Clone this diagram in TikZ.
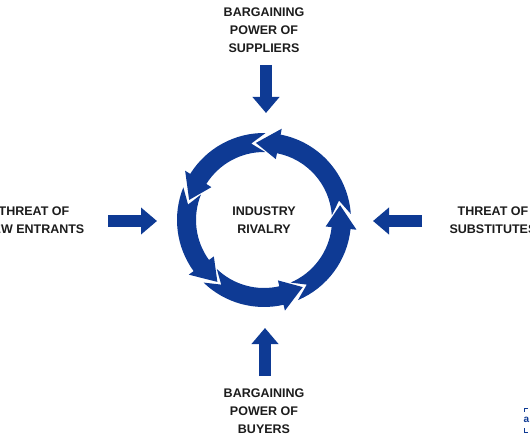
\documentclass[tikz,border=0pt]{standalone}
\usepackage{fontspec}
\setsansfont{Liberation Sans}
\usetikzlibrary{arrows.meta,positioning}
\definecolor{porterblue}{RGB}{14,58,148}
\definecolor{labelink}{RGB}{28,28,28}

\begin{document}
\begin{tikzpicture}[x=1pt,y=1pt,
  force/.style={font=\sffamily\bfseries\fontsize{12.5}{18}\selectfont,text=labelink,align=center},
  push/.style={porterblue,line width=12pt,-{Triangle[width=26pt,length=16pt]}}]
  \useasboundingbox (0,0) rectangle (530,442);
  \clip (0,0) rectangle (530,442);

  \node[force] (rivalry) at (264,222) {INDUSTRY\\RIVALRY};
  \node[force] (suppliers) at (264,412) {BARGAINING\\POWER OF\\SUPPLIERS};
  \node[force] (buyers) at (264,31) {BARGAINING\\POWER OF\\BUYERS};
  \node[force] (entrants) at (34,222) {THREAT OF\\NEW ENTRANTS};
  \node[force] (substitutes) at (493,222) {THREAT OF\\SUBSTITUTES};

  \begin{scope}[shift={(rivalry.center)}]
    \foreach \prev/\tip in {-60/11, 11/96, 96/165, 165/233, 233/300} {
      \pgfmathsetmacro\hbase{\tip-17}
      \pgfmathsetmacro\tcorner{\prev-7}
      \pgfmathsetmacro\tnotch{\prev+3.5}
      \fill[porterblue] (\tcorner:87) arc[start angle=\tcorner,end angle=\hbase,radius=87]
        -- (\hbase:93) -- (\tip:77.5) -- (\hbase:62) -- (\hbase:68)
        arc[start angle=\hbase,end angle=\tcorner,radius=68] -- (\tnotch:77.5) -- cycle;
    }
  \end{scope}

  \coordinate (supfrom) at (266,377);
  \coordinate (supto) at (266,329);
  \coordinate (buyfrom) at (265,66);
  \coordinate (buyto) at (265,114);
  \coordinate (entfrom) at (108,221);
  \coordinate (entto) at (157,221);
  \coordinate (subfrom) at (422,221);
  \coordinate (subto) at (373,221);

  \draw[push] (supfrom) -- (supto);
  \draw[push] (buyfrom) -- (buyto);
  \draw[push] (entfrom) -- (entto);
  \draw[push] (subfrom) -- (subto);

  \node[porterblue,font=\sffamily\bfseries\fontsize{10}{10}\selectfont,inner sep=0pt] (logo) at (526.5,22) {a};
  \draw[porterblue,line width=1pt] (528,34) -- (524,34) -- (524,30);
  \draw[porterblue,line width=1pt] (524,14) -- (524,10) -- (528,10);
\end{tikzpicture}
\end{document}
